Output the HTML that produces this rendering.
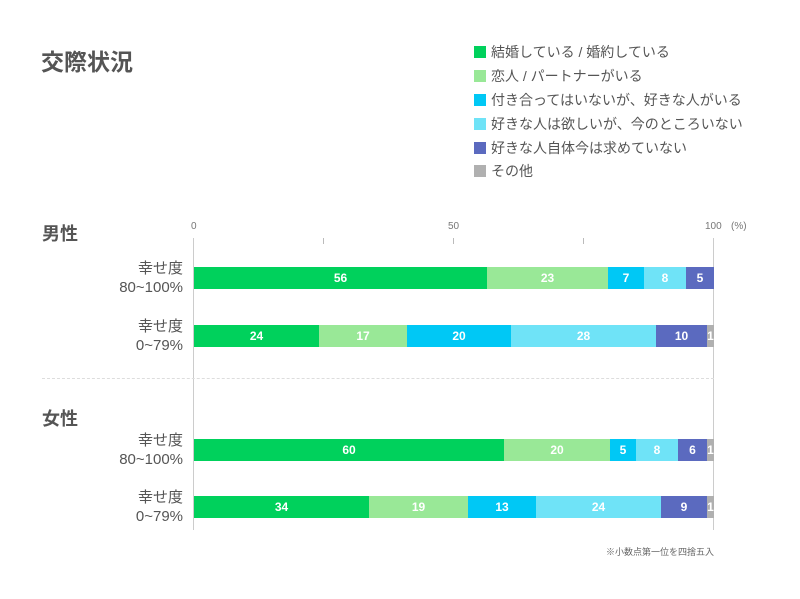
<!DOCTYPE html>
<html><head><meta charset="utf-8"><style>
body{margin:0;width:800px;height:599px;background:#fff;font-family:"Liberation Sans","Noto Sans CJK JP",sans-serif;color:#555;position:relative;overflow:hidden}
.a{position:absolute;white-space:nowrap}
.sq{position:absolute;width:12px;height:12px}
.lg{position:absolute;font-size:14px;line-height:16px;color:#555}
.seg{position:absolute;height:22px;color:#fff;font-size:12px;font-weight:bold;line-height:22px;text-align:center;overflow:hidden}
.rl{position:absolute;right:617px;text-align:right;font-size:15px;line-height:19px;color:#555}
.tk{position:absolute;font-size:10px;color:#777;top:221px}
</style></head><body>
<div class="a" style="left:41px;top:43px;font-size:23px;font-weight:bold;color:#555">交際状況</div>
<div class="sq" style="left:474px;top:46px;background:#00d15c"></div><div class="lg" style="left:491px;top:44px">結婚している / 婚約している</div>
<div class="sq" style="left:474px;top:70px;background:#99e897"></div><div class="lg" style="left:491px;top:68px">恋人 / パートナーがいる</div>
<div class="sq" style="left:474px;top:94px;background:#00c8f5"></div><div class="lg" style="left:491px;top:92px">付き合ってはいないが、好きな人がいる</div>
<div class="sq" style="left:474px;top:118px;background:#6fe3f7"></div><div class="lg" style="left:491px;top:116px">好きな人は欲しいが、今のところいない</div>
<div class="sq" style="left:474px;top:142px;background:#5b6abf"></div><div class="lg" style="left:491px;top:140px">好きな人自体今は求めていない</div>
<div class="sq" style="left:474px;top:165px;background:#b0b0b0"></div><div class="lg" style="left:491px;top:163px">その他</div>

<div class="a" style="left:42px;top:220px;font-size:18px;font-weight:bold">男性</div>
<div class="a" style="left:42px;top:405px;font-size:18px;font-weight:bold">女性</div>

<div class="tk" style="left:191px">0</div>
<div class="tk" style="left:448px">50</div>
<div class="tk" style="left:705px">100</div>
<div class="tk" style="left:731px">(%)</div>
<div class="a" style="left:193px;top:238px;width:1px;height:292px;background:#ccc"></div>
<div class="a" style="left:713px;top:238px;width:1px;height:292px;background:#ccc"></div>
<div class="a" style="left:323px;top:238px;width:1px;height:6px;background:#bbb"></div>
<div class="a" style="left:453px;top:238px;width:1px;height:6px;background:#bbb"></div>
<div class="a" style="left:583px;top:238px;width:1px;height:6px;background:#bbb"></div>
<div class="a" style="left:42px;top:378px;width:672px;border-top:1px dashed #ddd"></div>

<div class="rl" style="top:259px">幸せ度<br>80~100%</div>
<div class="rl" style="top:317px">幸せ度<br>0~79%</div>
<div class="rl" style="top:431px">幸せ度<br>80~100%</div>
<div class="rl" style="top:488px">幸せ度<br>0~79%</div>

<div class="seg" style="top:267px;left:194px;width:293px;background:#00d15c">56</div>
<div class="seg" style="top:267px;left:487px;width:121px;background:#99e897">23</div>
<div class="seg" style="top:267px;left:608px;width:36px;background:#00c8f5">7</div>
<div class="seg" style="top:267px;left:644px;width:42px;background:#6fe3f7">8</div>
<div class="seg" style="top:267px;left:686px;width:28px;background:#5b6abf">5</div>

<div class="seg" style="top:325px;left:194px;width:125px;background:#00d15c">24</div>
<div class="seg" style="top:325px;left:319px;width:88px;background:#99e897">17</div>
<div class="seg" style="top:325px;left:407px;width:104px;background:#00c8f5">20</div>
<div class="seg" style="top:325px;left:511px;width:145px;background:#6fe3f7">28</div>
<div class="seg" style="top:325px;left:656px;width:51px;background:#5b6abf">10</div>
<div class="seg" style="top:325px;left:707px;width:7px;background:#b0b0b0">1</div>

<div class="seg" style="top:439px;left:194px;width:310px;background:#00d15c">60</div>
<div class="seg" style="top:439px;left:504px;width:106px;background:#99e897">20</div>
<div class="seg" style="top:439px;left:610px;width:26px;background:#00c8f5">5</div>
<div class="seg" style="top:439px;left:636px;width:42px;background:#6fe3f7">8</div>
<div class="seg" style="top:439px;left:678px;width:29px;background:#5b6abf">6</div>
<div class="seg" style="top:439px;left:707px;width:7px;background:#b0b0b0">1</div>

<div class="seg" style="top:496px;left:194px;width:175px;background:#00d15c">34</div>
<div class="seg" style="top:496px;left:369px;width:99px;background:#99e897">19</div>
<div class="seg" style="top:496px;left:468px;width:68px;background:#00c8f5">13</div>
<div class="seg" style="top:496px;left:536px;width:125px;background:#6fe3f7">24</div>
<div class="seg" style="top:496px;left:661px;width:46px;background:#5b6abf">9</div>
<div class="seg" style="top:496px;left:707px;width:7px;background:#b0b0b0">1</div>

<div class="a" style="right:86px;top:545px;font-size:9px;color:#666">※小数点第一位を四捨五入</div>
</body></html>
